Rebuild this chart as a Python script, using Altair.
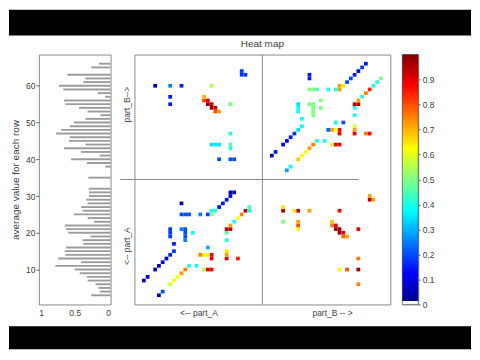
import altair as alt
import pandas as pd

FONT = "Liberation Sans"
TXT = "#3c3c3c"
N_ROWS = 68
N_PART_A = 34

# ---- left panel: average value for each row ----
bar_rows = [3, 4, 5, 6, 7, 8, 9, 10, 11, 12, 13, 14, 15, 16, 17, 18, 19, 20, 21, 22,
            23, 24, 25, 26, 27, 28, 29, 30, 31, 32, 35, 38, 39, 40, 41, 42, 43, 44, 45,
            46, 47, 48, 49, 50, 51, 52, 53, 54, 55, 56, 57, 58, 59, 60, 61, 62, 63, 65, 66]
bar_vals = [0.27, 0.15, 0.17, 0.21, 0.32, 0.33, 0.43, 0.50, 0.77, 0.41, 0.73, 0.63, 0.64,
            0.62, 0.38, 0.39, 0.28, 0.59, 0.62, 0.64, 0.23, 0.32, 0.51, 0.39, 0.41, 0.32,
            0.34, 0.30, 0.30, 0.305, 0.31, 0.075, 0.33, 0.55, 0.155, 0.41, 0.65, 0.35,
            0.58, 0.57, 0.76, 0.69, 0.57, 0.51, 0.35, 0.14, 0.32, 0.44, 0.63, 0.65, 0.075,
            0.18, 0.66, 0.72, 0.38, 0.35, 0.60, 0.27, 0.16]

# ---- heat map: symmetric positions, value above / below the diagonal ----
# part_A x part_A block
aa_col = [3, 4, 6, 7, 8, 9, 10, 11, 11, 10, 10, 10, 13, 14, 14, 14, 14, 16, 13, 13, 14, 15,
          18, 20, 21, 21, 22, 23, 24, 25, 26, 26, 27]
aa_row = [7, 8, 10, 11, 12, 13, 14, 15, 17, 19, 20, 21, 21, 21, 20, 19, 18, 20, 28, 25, 25, 25,
          25, 25, 25, 26, 26, 27, 28, 29, 30, 31, 31]
aa_upper = [0.05, 0.08, 0.06, 0.07, 0.10, 0.12, 0.15, 0.18, 0.15, 0.18, 0.18, 0.18, 0.25, 0.20,
            0.20, 0.20, 0.25, 0.38, 0.05, 0.20, 0.20, 0.20, 0.25, 0.18, 0.50, 0.40, 0.40, 0.15,
            0.15, 0.15, 0.10, 0.05, 0.05]
aa_lower = [0.05, 0.20, 0.58, 0.63, 0.62, 0.72, 0.75, 0.40, 0.40, 0.55, 0.90, 0.88, 0.90, 0.90,
            0.62, 0.62, 0.75, 0.30, 0.85, 0.90, 0.72, 0.65, 0.40, 0.45, 0.95, 0.95, 0.72, 0.40,
            0.62, 0.75, 0.95, 0.40, 0.45]

# part_B x part_B block
bb_col = [37, 38, 40, 41, 42, 43, 44, 45, 45, 44, 44, 44, 47, 48, 48, 48, 48, 50, 50, 47, 47,
          47, 48, 49, 52, 54, 55, 55, 56, 57, 58, 59, 60, 61, 62]
bb_row = [41, 42, 44, 45, 46, 47, 48, 49, 51, 53, 54, 55, 55, 55, 54, 53, 52, 54, 56, 62, 63,
          59, 59, 59, 59, 59, 59, 60, 60, 61, 62, 63, 64, 65, 66]
bb_upper = [0.05, 0.15, 0.12, 0.12, 0.15, 0.18, 0.35, 0.38, 0.38, 0.38, 0.38, 0.35, 0.50, 0.50,
            0.50, 0.50, 0.50, 0.50, 0.50, 0.15, 0.15, 0.50, 0.50, 0.45, 0.40, 0.40, 0.72, 0.72,
            0.65, 0.20, 0.20, 0.15, 0.08, 0.18, 0.15]
bb_lower = [0.28, 0.38, 0.68, 0.62, 0.62, 0.72, 0.75, 0.40, 0.40, 0.60, 0.90, 0.88, 0.90, 0.90,
            0.62, 0.72, 0.22, 0.38, 0.20, 0.75, 0.88, 0.90, 0.72, 0.60, 0.40, 0.40, 0.95, 0.95,
            0.72, 0.42, 0.75, 0.85, 0.40, 0.42, 0.50]

# part_A x part_B block (top-left) and its mirror (bottom-right)
ab_col = [6, 10, 13, 21, 10, 10, 26, 26, 21, 22, 23, 26, 26, 23, 26, 27, 29, 29, 30,
          23, 22, 22, 21, 21, 20, 20, 19, 19]
ab_row = [60, 60, 60, 60, 57, 55, 55, 47, 44, 44, 44, 44, 43, 40, 40, 40, 64, 63, 63,
          53, 53, 54, 54, 55, 55, 56, 56, 57]
ab_upper = [0.05, 0.25, 0.15, 0.55, 0.15, 0.15, 0.50, 0.40, 0.35, 0.35, 0.35, 0.45, 0.40, 0.20,
            0.20, 0.20, 0.18, 0.18, 0.18, 0.72, 0.80, 0.90, 0.97, 0.93, 0.97, 0.90, 0.82, 0.70]
ab_lower = [0.75, 0.97, 0.75, 0.88, 0.80, 0.62, 0.88, 0.72, 0.63, 0.80, 0.72, 0.95, 0.65, 0.50,
            0.95, 0.65, 0.72, 0.95, 0.72, 0.68, 0.75, 0.90, 0.97, 0.95, 0.97, 0.90, 0.78, 0.72]

jet_stops = [0, 0.125, 0.375, 0.625, 0.875, 1]
jet_colors = ["#00008f", "#0000ff", "#00ffff", "#ffff00", "#ff0000", "#800000"]
cbar_ticks = [0, 0.1, 0.2, 0.3, 0.4, 0.5, 0.6, 0.7, 0.8, 0.9]


def mirrored(cols, rows, upper, lower):
    out = []
    for c, r, u, l in zip(cols, rows, upper, lower):
        out.append({"col": c, "row": r, "val": u})
        out.append({"col": r, "row": c, "val": l})
    return out


heat_df = pd.DataFrame(mirrored(aa_col, aa_row, aa_upper, aa_lower)
                       + mirrored(bb_col, bb_row, bb_upper, bb_lower)
                       + mirrored(ab_col, ab_row, ab_upper, ab_lower))
bar_df = pd.DataFrame({"row": bar_rows, "val": bar_vals})
one = pd.DataFrame({"a": [0]})

HW, HH = 257, 251
pos_scale = alt.Scale(domain=[0.5, N_ROWS + 0.5], nice=False, zero=False)
jet = alt.Scale(domain=jet_stops, range=jet_colors, interpolate="rgb")

# ---- left bar panel (also carries the black letterbox bands) ----
bar_marks = alt.Chart(bar_df).transform_calculate(
    y0="datum.row - 0.26", y1="datum.row + 0.26", zero="0"
).mark_rect(color="#9c9c9c").encode(
    x=alt.X("val:Q", scale=alt.Scale(domain=[0, 1], reverse=True, nice=False),
            axis=alt.Axis(values=[0, 0.5, 1], format="~g", ticks=False, labelPadding=4,
                          title=None)),
    x2="zero:Q",
    y=alt.Y("y0:Q", scale=pos_scale,
            axis=alt.Axis(values=[10, 20, 30, 40, 50, 60], tickSize=3, labelPadding=1,
                          title="average value for each row", titlePadding=5)),
    y2="y1:Q",
)
band_top = alt.Chart(one).mark_rect(color="black").encode(
    x=alt.value(-30), x2=alt.value(434), y=alt.value(-45), y2=alt.value(-19))
band_bot = alt.Chart(one).mark_rect(color="black").encode(
    x=alt.value(-30), x2=alt.value(434), y=alt.value(273), y2=alt.value(296))
bars = alt.layer(band_top, band_bot, bar_marks).properties(width=72, height=HH)

# ---- heat map panel ----
cells = alt.Chart(heat_df).transform_calculate(
    x0="datum.col - 0.5", x1="datum.col + 0.5", y0="datum.row - 0.5", y1="datum.row + 0.5"
).mark_rect().encode(
    x=alt.X("x0:Q", scale=pos_scale,
            axis=alt.Axis(values=[17.5, 53], ticks=False, labelPadding=4, title=None,
                          labelExpr="datum.value < 34 ? '<-- part_A' : 'part_B -- >'")),
    x2="x1:Q",
    y=alt.Y("y0:Q", scale=pos_scale,
            axis=alt.Axis(values=[16.5, 55], ticks=False, labelPadding=3, title=None,
                          labelAngle=270, labelAlign="center", labelBaseline="bottom",
                          labelExpr="datum.value < 34 ? '<-- part_A' : 'part_B-->'")),
    y2="y1:Q",
    color=alt.Color("val:Q", scale=jet, legend=None),
)

split = N_PART_A + 0.5
vline = alt.Chart(one).mark_rule(color="#8a8a8a", strokeWidth=1).encode(
    x=alt.datum(split), y=alt.datum(0.5), y2=alt.datum(N_ROWS + 0.5))
hline = alt.Chart(one).mark_rule(color="#8a8a8a", strokeWidth=1, clip=False).encode(
    y=alt.datum(split), x=alt.datum(-3.3), x2=alt.datum(60))

heat = alt.layer(cells, vline, hline).properties(
    width=HW, height=HH, title=alt.TitleParams("Heat map", offset=5))

# ---- colorbar ----
grad = alt.LinearGradient(
    gradient="linear", x1=0, x2=0, y1=1, y2=0,
    stops=[alt.GradientStop(color="#ffffff", offset=0),
           alt.GradientStop(color="#ffffff", offset=1 / 64)]
    + [alt.GradientStop(color=c, offset=max(s, 1 / 64 + 0.0001))
       for s, c in zip(jet_stops, jet_colors)])
cbar = alt.Chart(pd.DataFrame({"lo": [0.0], "hi": [1.0]})).mark_rect(
    color=grad, stroke="#444", strokeWidth=0.6
).encode(
    x=alt.value(0), x2=alt.value(16),
    y=alt.Y("lo:Q", scale=alt.Scale(domain=[0, 1], nice=False),
            axis=alt.Axis(orient="right", values=cbar_ticks, format="~g", tickSize=2,
                          labelPadding=2, title=None)),
    y2="hi:Q",
).properties(width=16, height=HH)

chart = alt.hconcat(
    bars,
    alt.hconcat(heat, cbar, spacing=12, bounds="flush"),
    spacing=24, bounds="flush", padding=0,
).configure_view(stroke="#8a8a8a", strokeWidth=1).configure_axis(
    labelFont=FONT, titleFont=FONT, labelColor=TXT, titleColor=TXT, labelFontSize=8.5,
    titleFontSize=10, titleFontWeight="normal", grid=False, domain=False, tickColor="#666"
).configure_title(font=FONT, fontSize=10, fontWeight="normal", color=TXT)

chart.save("out.html", embed_options={"renderer": "svg", "actions": False})
